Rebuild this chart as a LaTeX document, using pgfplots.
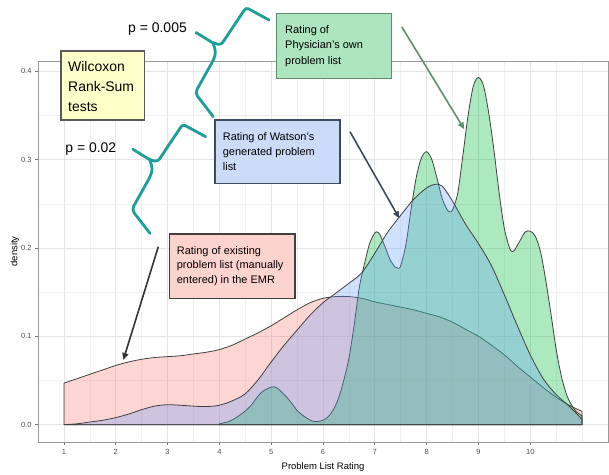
\documentclass[border=0pt]{standalone}
\usepackage{pgfplots}
\pgfplotsset{compat=1.18}
\usepackage{fontspec}
\setmainfont{Liberation Sans}
\usetikzlibrary{arrows.meta}
\definecolor{ggred}{HTML}{F8766D}
\definecolor{gggreen}{HTML}{00BA38}
\definecolor{ggblue}{HTML}{619CFF}
\definecolor{boxgreen}{HTML}{ADE5C0}
\definecolor{boxgreenline}{HTML}{5E8E6C}
\definecolor{boxblue}{HTML}{CCDCF8}
\definecolor{boxblueline}{HTML}{3D4A5E}
\definecolor{boxred}{HTML}{FDD3CF}
\definecolor{boxyellow}{HTML}{FFFFC9}
\definecolor{braceteal}{HTML}{1E9E98}
\definecolor{ticklab}{HTML}{4D4D4D}
\begin{document}
\begin{tikzpicture}
\useasboundingbox (0bp,0bp) rectangle (609bp,475bp);
\begin{axis}[
  at={(38bp,33bp)}, anchor=south west,
  scale only axis, width=570bp, height=381bp,
  xmin=0.5, xmax=11.5, ymin=-0.0196, ymax=0.4116,
  xtick={1,2,3,4,5,6,7,8,9,10},
  ytick={0,0.1,0.2,0.3,0.4},
  yticklabels={0.0,0.1,0.2,0.3,0.4},
  minor xtick={1.5,2.5,3.5,4.5,5.5,6.5,7.5,8.5,9.5,10.5,11},
  minor ytick={0.05,0.15,0.25,0.35},
  xtick pos=bottom, ytick pos=left,
  tick align=outside, major tick length=3bp, minor tick length=0pt,
  grid=both,
  major grid style={color=black!10, line width=0.8bp},
  minor grid style={color=black!6, line width=0.5bp},
  axis line style={color=black!40, line width=0.9bp},
  major tick style={color=black!55, line width=0.7bp},
  /pgf/number format/assume math mode=true,
  tick label style={font=\fontsize{7.5}{8}\selectfont, text=ticklab},
  xticklabel style={yshift=-1bp},
  xlabel={Problem List Rating}, ylabel={density},
  label style={font=\fontsize{9.5}{10}\selectfont},
  xlabel style={at={(axis description cs:0.5,-0.0648)}, anchor=center},
  ylabel style={at={(axis description cs:-0.0404,0.5)}, anchor=center},
]
% existing problem list (red)
\addplot[draw=black!75, line width=0.8bp, fill=ggred, fill opacity=0.3, smooth, tension=0.5] coordinates {
(1.0,0.047) (1.25,0.052) (1.5,0.057) (1.75,0.062) (2.0,0.067) (2.25,0.071) (2.5,0.074) (2.75,0.076)
(3.0,0.077) (3.25,0.078) (3.5,0.080) (3.75,0.082) (4.0,0.085) (4.25,0.090) (4.5,0.097) (4.75,0.104)
(5.0,0.112) (5.25,0.121) (5.5,0.130) (5.75,0.138) (6.0,0.143) (6.25,0.145) (6.5,0.145) (6.75,0.143)
(7.0,0.139) (7.25,0.136) (7.5,0.133) (7.75,0.130) (8.0,0.126) (8.25,0.122) (8.5,0.116) (8.75,0.108)
(9.0,0.100) (9.25,0.090) (9.5,0.079) (9.75,0.066) (10.0,0.054) (10.25,0.042) (10.5,0.031) (10.75,0.022)
(11.0,0.015)
} \closedcycle;
% physician's own problem list (green)
\addplot[draw=black!75, line width=0.8bp, fill=gggreen, fill opacity=0.32, smooth, tension=0.5] coordinates {
(4.0,0.001) (4.2,0.004) (4.4,0.011) (4.6,0.021) (4.8,0.036) (5.0,0.0425) (5.1,0.042) (5.2,0.037)
(5.3,0.031) (5.4,0.024) (5.5,0.016) (5.6,0.011) (5.7,0.007) (5.8,0.004) (5.9,0.0037) (6.0,0.005)
(6.1,0.009) (6.2,0.017) (6.3,0.030) (6.4,0.050) (6.5,0.075) (6.6,0.112) (6.7,0.155) (6.8,0.182)
(6.9,0.205) (7.0,0.217) (7.05,0.218) (7.1,0.215) (7.2,0.201) (7.3,0.186) (7.4,0.178) (7.45,0.177)
(7.5,0.180) (7.6,0.204) (7.7,0.244) (7.8,0.280) (7.9,0.302) (8.0,0.309) (8.1,0.300) (8.2,0.279)
(8.3,0.256) (8.4,0.243) (8.45,0.241) (8.5,0.243) (8.6,0.262) (8.7,0.305) (8.8,0.350) (8.9,0.383)
(9.0,0.393) (9.1,0.383) (9.2,0.352) (9.3,0.310) (9.4,0.262) (9.5,0.222) (9.6,0.200) (9.65,0.196)
(9.7,0.198) (9.8,0.208) (9.9,0.218) (10.0,0.219) (10.1,0.213) (10.2,0.195) (10.3,0.163) (10.4,0.125)
(10.5,0.085) (10.6,0.055) (10.7,0.034) (10.8,0.022) (10.9,0.014) (11.0,0.010)
} \closedcycle;
% Watson's generated problem list (blue)
\addplot[draw=black!75, line width=0.8bp, fill=ggblue, fill opacity=0.3, smooth, tension=0.5] coordinates {
(1.0,0.000) (1.25,0.001) (1.5,0.003) (1.75,0.005) (2.0,0.008) (2.25,0.012) (2.5,0.017) (2.75,0.021)
(3.0,0.0226) (3.25,0.022) (3.5,0.021) (3.75,0.0205) (4.0,0.022) (4.25,0.027) (4.5,0.035) (4.75,0.051)
(5.0,0.071) (5.25,0.090) (5.5,0.107) (5.75,0.124) (6.0,0.138) (6.25,0.149) (6.5,0.160) (6.75,0.172)
(7.0,0.194) (7.25,0.218) (7.5,0.237) (7.75,0.255) (8.0,0.268) (8.16,0.272) (8.3,0.270) (8.5,0.253)
(8.75,0.227) (9.0,0.205) (9.25,0.180) (9.5,0.147) (9.75,0.112) (10.0,0.079) (10.25,0.052) (10.5,0.034)
(10.75,0.021) (11.0,0.006)
} \closedcycle;
\end{axis}
\begin{scope}[x=1bp, y=1bp, shift={(0bp,475bp)}, yscale=-1]
% boxes
\draw[fill=boxyellow, draw=black!65, line width=1.3bp] (61,51) rectangle (144.3,120);
\node[anchor=west, align=left, inner sep=0pt, font=\fontsize{14}{20}\selectfont] at (68,86.7) {Wilcoxon\\Rank-Sum\\tests};
\draw[fill=boxgreen, draw=boxgreenline, line width=1.5bp] (276.7,13.3) rectangle (391.7,78.3);
\node[anchor=west, align=left, inner sep=0pt, font=\fontsize{11}{15.5}\selectfont] at (285,46) {Rating of\\Physician’s own\\problem list};
\draw[fill=boxblue, draw=boxblueline, line width=1.5bp] (215,120) rectangle (340,183.3);
\node[anchor=west, align=left, inner sep=0pt, font=\fontsize{11}{15}\selectfont] at (222.7,152) {Rating of Watson’s\\generated problem\\list};
\draw[fill=boxred, draw=black!75, line width=1.5bp] (169.3,234) rectangle (295,298.3);
\node[anchor=west, align=left, inner sep=0pt, font=\fontsize{11}{14.5}\selectfont] at (176.7,266) {Rating of existing\\problem list (manually\\entered) in the EMR};
% p values
\node[inner sep=0pt, font=\fontsize{14}{16}\selectfont] at (157.5,29.5) {p = 0.005};
\node[inner sep=0pt, font=\fontsize{14}{16}\selectfont] at (90.8,149.5) {p = 0.02};
% braces
\foreach \dx/\dy in {0/0, -63.3/116.7}{
  \begin{scope}[shift={(\dx,\dy)}]
  \draw[braceteal, line width=2.8bp, rounded corners=3bp, line cap=round]
    (269,20) -- (246,7.5) -- (221,45) -- (213,43) -- (196,32.5);
  \draw[braceteal, line width=2.8bp, rounded corners=4bp, line cap=round]
    (213,43) -- (216,52) -- (214,59) -- (195,93) -- (213.3,116.7);
  \end{scope}
}
% arrows
\draw[-{Triangle[length=7bp,width=6bp]}, color=boxgreenline, line width=1.6bp] (401.7,26.7) -- (464.3,129.3);
\draw[-{Triangle[length=7bp,width=6bp]}, color=boxblueline, line width=1.6bp] (350,131.7) -- (399.3,218.3);
\draw[-{Triangle[length=7bp,width=6bp]}, color=black!80, line width=1.6bp] (158.3,246.7) -- (123.3,360);
\end{scope}
\end{tikzpicture}
\end{document}
